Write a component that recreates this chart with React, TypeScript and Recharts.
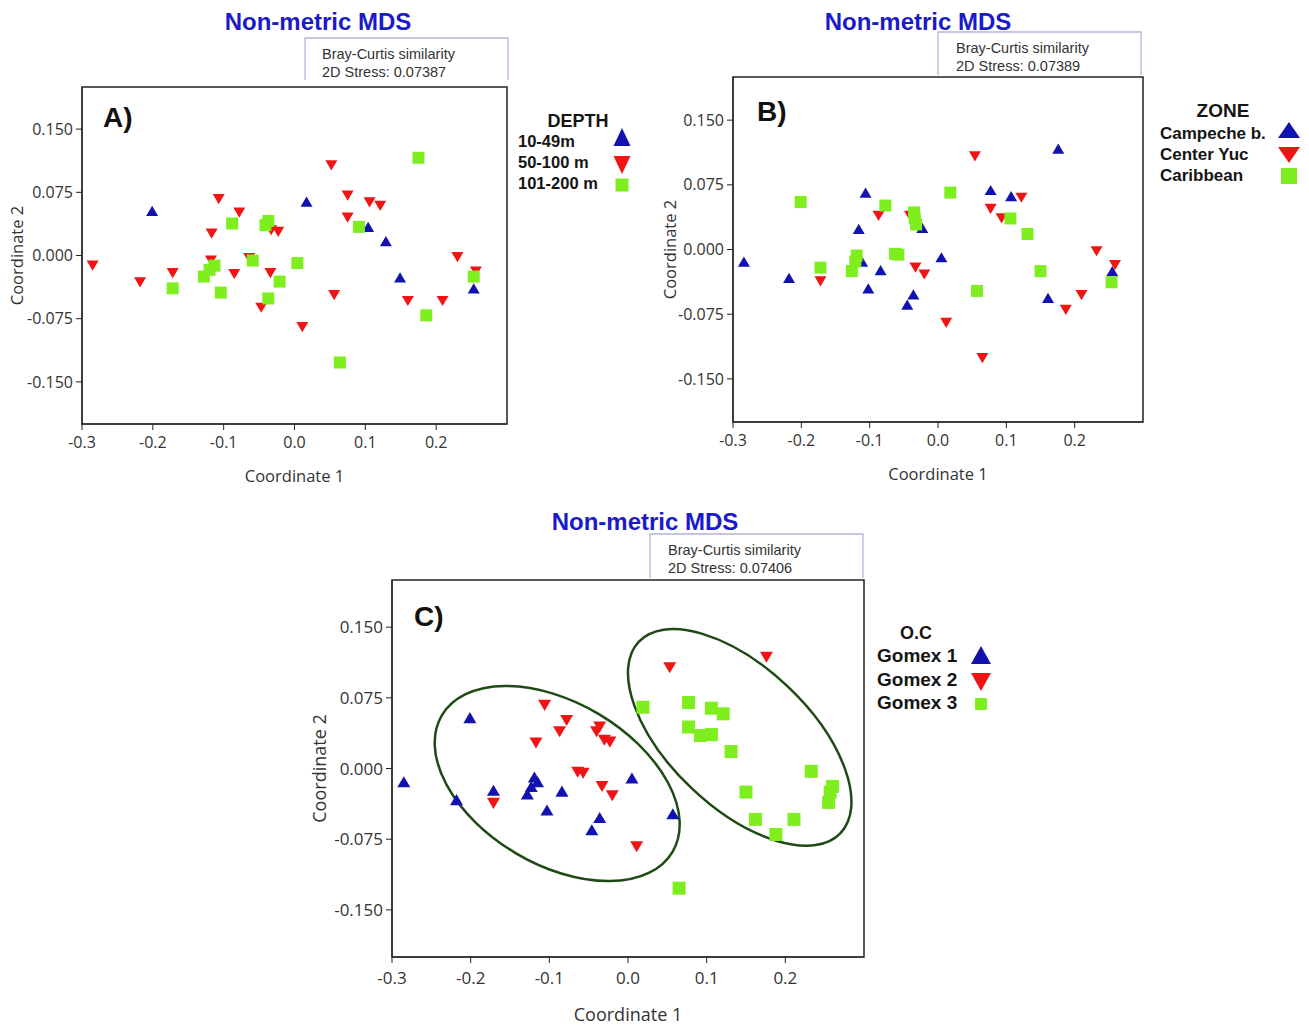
import React from 'react';
import { ScatterChart, Scatter, XAxis, YAxis, ReferenceArea } from 'recharts';

type Pt = [number, number];

// axis ticks shared by the three panels
const X_TICKS = [-0.3, -0.2, -0.1, 0, 0.1, 0.2];
const Y_TICKS = [0.15, 0.075, 0, -0.075, -0.15];

// A) DEPTH
const A_SHALLOW: Pt[] = [[-0.201, 0.053], [0.017, 0.064], [0.104, 0.034], [0.129, 0.017], [0.149, -0.026], [0.253, -0.039]];
const A_MID: Pt[] = [
  [-0.285, -0.012], [-0.218, -0.032], [-0.172, -0.021], [-0.107, 0.067], [-0.117, 0.026], [-0.078, 0.051],
  [-0.118, -0.006], [-0.085, -0.022], [-0.064, -0.003], [-0.033, 0.03], [-0.023, 0.028], [-0.034, -0.021],
  [-0.047, -0.062], [0.011, -0.085], [0.052, 0.107], [0.075, 0.071], [0.075, 0.045], [0.106, 0.063],
  [0.121, 0.059], [0.056, -0.047], [0.16, -0.054], [0.209, -0.054], [0.23, -0.002], [0.256, -0.019],
];
const A_DEEP: Pt[] = [
  [0.175, 0.116], [-0.088, 0.038], [-0.037, 0.041], [-0.041, 0.036], [0.091, 0.034], [-0.059, -0.006],
  [0.004, -0.009], [-0.113, -0.012], [-0.12, -0.017], [-0.128, -0.025], [-0.172, -0.039], [-0.104, -0.044],
  [-0.021, -0.031], [-0.037, -0.051], [0.186, -0.071], [0.064, -0.127], [0.253, -0.025],
];

// B) ZONE
const B_CAMPECHE: Pt[] = [
  [-0.284, -0.014], [-0.218, -0.033], [-0.106, 0.066], [-0.116, 0.024], [-0.111, -0.014], [-0.084, -0.024],
  [-0.102, -0.045], [-0.036, -0.052], [-0.045, -0.064], [-0.023, 0.025], [0.005, -0.009], [0.077, 0.069],
  [0.107, 0.062], [0.176, 0.117], [0.161, -0.056], [0.255, -0.025],
];
const B_CENTER: Pt[] = [
  [0.054, 0.108], [0.122, 0.06], [0.077, 0.047], [0.093, 0.036], [-0.087, 0.039], [-0.041, 0.039],
  [-0.172, -0.037], [-0.033, -0.021], [-0.02, -0.029], [0.012, -0.085], [0.065, -0.126], [0.187, -0.07],
  [0.21, -0.053], [0.232, -0.002], [0.259, -0.018],
];
const B_CARIBBEAN: Pt[] = [
  [-0.201, 0.055], [-0.077, 0.051], [0.018, 0.066], [-0.035, 0.043], [-0.034, 0.036], [-0.032, 0.029],
  [0.106, 0.036], [0.131, 0.018], [-0.063, -0.005], [-0.058, -0.006], [-0.119, -0.007], [-0.121, -0.014],
  [-0.172, -0.021], [-0.126, -0.025], [0.15, -0.025], [0.057, -0.048], [0.254, -0.038],
];

// C) O.C
const C_GOMEX1: Pt[] = [
  [-0.285, -0.014], [-0.201, 0.054], [-0.218, -0.033], [-0.171, -0.023], [-0.128, -0.027], [-0.123, -0.019],
  [-0.119, -0.009], [-0.115, -0.014], [-0.103, -0.044], [-0.084, -0.024], [-0.046, -0.065], [-0.036, -0.052],
  [0.005, -0.01], [0.057, -0.048],
];
const C_GOMEX2: Pt[] = [
  [0.053, 0.107], [0.176, 0.118], [-0.106, 0.067], [-0.078, 0.051], [-0.087, 0.039], [-0.117, 0.027],
  [-0.036, 0.044], [-0.04, 0.039], [-0.03, 0.03], [-0.023, 0.028], [-0.064, -0.004], [-0.057, -0.005],
  [-0.033, -0.019], [-0.02, -0.029], [-0.171, -0.037], [0.011, -0.083],
];
const C_GOMEX3: Pt[] = [
  [0.019, 0.065], [0.077, 0.07], [0.106, 0.064], [0.121, 0.058], [0.077, 0.044], [0.092, 0.035],
  [0.106, 0.036], [0.131, 0.018], [0.233, -0.003], [0.26, -0.019], [0.257, -0.025], [0.255, -0.036],
  [0.15, -0.025], [0.162, -0.054], [0.211, -0.054], [0.188, -0.07], [0.065, -0.127],
];
const C_GROUP_CENTRES: Pt[] = [[-0.09, -0.016], [0.142, 0.033]];

const LEGEND_A = ['10-49m', '50-100 m', '101-200 m'];
const LEGEND_B = ['Campeche b.', 'Center Yuc', 'Caribbean'];
const LEGEND_C = ['Gomex 1', 'Gomex 2', 'Gomex 3'];
const STRESS = ['0.07387', '0.07389', '0.07406'];

const BLUE = '#1212b0';
const RED = '#f01414';
const GREEN = '#7eee1e';
const TITLE_BLUE = '#1a1acb';
const TICK_FONT = '"Open Sans", "DejaVu Sans", sans-serif';
const ARIAL = '"Liberation Sans", Arial, sans-serif';

const ELLIPSE_STYLE = [
  { rx: 134, ry: 81, angle: 30.6 },
  { rx: 139, ry: 70, angle: 43.5 },
];

type Kind = 'up' | 'down' | 'square';

function markerPath(kind: Kind, cx: number, cy: number, w: number, h: number) {
  if (kind === 'up') return `M${cx},${cy - h / 2}L${cx + w / 2},${cy + h / 2}L${cx - w / 2},${cy + h / 2}Z`;
  if (kind === 'down') return `M${cx - w / 2},${cy - h / 2}L${cx + w / 2},${cy - h / 2}L${cx},${cy + h / 2}Z`;
  return `M${cx - w / 2},${cy - w / 2}h${w}v${w}h${-w}Z`;
}

const toObjs = (pts: Pt[]) => pts.map(([x, y], i) => ({ x, y, i }));

type PanelProps = {
  left: number;
  top: number;
  width: number;
  height: number;
  margin: { top: number; right: number; bottom: number; left: number };
  yAxisWidth: number;
  xAxisHeight: number;
  tickFont: number;
  labelFont: number;
  xTickMargin: number;
  xLabelOffset: number;
  yLabelOffset: number;
  marker: number;
  series: { data: Pt[]; color: string; kind: Kind }[];
  groups?: Pt[];
};

function Panel(p: PanelProps) {
  const labelStyle = { fontSize: p.labelFont, fill: '#333', fontFamily: TICK_FONT };
  return (
    <div style={{ position: 'absolute', left: p.left, top: p.top }}>
      <ScatterChart width={p.width} height={p.height} margin={p.margin}>
        <XAxis
          type="number"
          dataKey="x"
          domain={[-0.3, 0.3]}
          ticks={X_TICKS}
          allowDataOverflow
          tickFormatter={(v: number) => v.toFixed(1)}
          height={p.xAxisHeight}
          tickSize={6}
          tickMargin={p.xTickMargin}
          stroke="#222"
          tick={{ fill: '#333', fontSize: p.tickFont, fontFamily: TICK_FONT }}
          label={{ value: 'Coordinate 1', position: 'insideBottom', offset: p.xLabelOffset, style: labelStyle }}
        />
        <YAxis
          type="number"
          dataKey="y"
          domain={[-0.2, 0.2]}
          ticks={Y_TICKS}
          allowDataOverflow
          tickFormatter={(v: number) => v.toFixed(3)}
          width={p.yAxisWidth}
          tickSize={6}
          tickMargin={3}
          stroke="#222"
          tick={{ fill: '#333', fontSize: p.tickFont, fontFamily: TICK_FONT }}
          label={{
            value: 'Coordinate 2',
            angle: -90,
            position: 'insideLeft',
            offset: p.yLabelOffset,
            style: { ...labelStyle, textAnchor: 'middle' },
          }}
        />
        <ReferenceArea x1={-0.3} x2={0.3} y1={-0.2} y2={0.2} fill="none" stroke="#222" strokeWidth={1.5} ifOverflow="visible" />
        {p.groups && (
          <Scatter
            data={toObjs(p.groups)}
            isAnimationActive={false}
            shape={(s: any) => {
              const e = ELLIPSE_STYLE[s.payload.i];
              return (
                <ellipse
                  cx={s.cx}
                  cy={s.cy}
                  rx={e.rx}
                  ry={e.ry}
                  transform={`rotate(${e.angle} ${s.cx} ${s.cy})`}
                  fill="none"
                  stroke="#1f4a14"
                  strokeWidth={2.5}
                />
              );
            }}
          />
        )}
        {p.series.map((s, k) => (
          <Scatter
            key={k}
            data={toObjs(s.data)}
            isAnimationActive={false}
            shape={(q: any) => (
              <path
                d={markerPath(s.kind, q.cx, q.cy, p.marker, s.kind === 'square' ? p.marker : p.marker * 0.85)}
                fill={s.color}
              />
            )}
          />
        ))}
      </ScatterChart>
    </div>
  );
}

function Legend({ x, iconX, headerX, headerY, header, headerSize, labels, baselines, iconYs, fontSize, iconW, iconH, sq }: any) {
  const kinds: Kind[] = ['up', 'down', 'square'];
  const colors = [BLUE, RED, GREEN];
  return (
    <g fontFamily={ARIAL} fontWeight="bold" fill="#151515">
      <text x={headerX} y={headerY} textAnchor="middle" fontSize={headerSize}>{header}</text>
      {labels.map((l: string, i: number) => (
        <g key={l}>
          <text x={x} y={baselines[i]} fontSize={fontSize}>{l}</text>
          <path d={markerPath(kinds[i], iconX, iconYs[i], kinds[i] === 'square' ? sq : iconW, iconH)} fill={colors[i]} />
        </g>
      ))}
    </g>
  );
}

function StressBox({ l, r, t, b, textX, stress }: any) {
  return (
    <g>
      <path d={`M${l},${b}V${t}H${r}V${b}`} fill="none" stroke="#b4b4dc" strokeWidth={1.3} />
      <text x={textX} y={t + 21} fontFamily={ARIAL} fontSize={14.5} fill="#333">Bray-Curtis similarity</text>
      <text x={textX} y={t + 39} fontFamily={ARIAL} fontSize={14.5} fill="#333">2D Stress: {stress}</text>
    </g>
  );
}

function Overlay() {
  const title = (cx: number, y: number) => (
    <text x={cx} y={y} textAnchor="middle" fontFamily={ARIAL} fontWeight="bold" fontSize={24} fill={TITLE_BLUE}>
      Non-metric MDS
    </text>
  );
  const tag = (x: number, y: number, s: string, size: number) => (
    <text x={x} y={y} fontFamily={ARIAL} fontWeight="bold" fontSize={size} fill="#111">{s}</text>
  );
  return (
    <svg width={1309} height={1025} style={{ position: 'absolute', left: 0, top: 0, pointerEvents: 'none' }}>
      {title(318, 30)}
      {title(918, 30)}
      {title(645, 530)}
      <StressBox l={305} r={508} t={38} b={80} textX={322} stress={STRESS[0]} />
      <StressBox l={938} r={1141} t={32} b={75} textX={956} stress={STRESS[1]} />
      <StressBox l={650} r={863} t={534} b={578} textX={668} stress={STRESS[2]} />
      {tag(103, 127, 'A)', 28)}
      {tag(757, 121, 'B)', 28)}
      {tag(414, 626, 'C)', 28)}
      <Legend
        x={518} iconX={622} headerX={578} headerY={127} header="DEPTH" headerSize={18}
        labels={LEGEND_A} baselines={[147, 168, 189]} iconYs={[137, 165, 185]}
        fontSize={16.5} iconW={17} iconH={18} sq={13}
      />
      <Legend
        x={1160} iconX={1289} headerX={1223} headerY={117} header="ZONE" headerSize={19}
        labels={LEGEND_B} baselines={[139, 160, 181]} iconYs={[130, 155, 176]}
        fontSize={17} iconW={22} iconH={16} sq={16}
      />
      <Legend
        x={877} iconX={981} headerX={916} headerY={639} header="O.C" headerSize={18}
        labels={LEGEND_C} baselines={[662, 686, 709]} iconYs={[655, 682, 704]}
        fontSize={19} iconW={20} iconH={18} sq={12}
      />
    </svg>
  );
}

export default function App() {
  return (
    <div style={{ position: 'absolute', left: 0, top: 0, width: 1309, height: 1025, background: '#fff' }}>
      <Panel
        left={0} top={70} width={520} height={420}
        margin={{ top: 17, right: 13, bottom: 4, left: 0 }}
        yAxisWidth={82} xAxisHeight={62} tickFont={16} labelFont={16.5} xTickMargin={7}
        xLabelOffset={4} yLabelOffset={17} marker={12}
        series={[
          { data: A_SHALLOW, color: BLUE, kind: 'up' },
          { data: A_MID, color: RED, kind: 'down' },
          { data: A_DEEP, color: GREEN, kind: 'square' },
        ]}
      />
      <Panel
        left={650} top={60} width={510} height={428}
        margin={{ top: 17, right: 17, bottom: 4, left: 0 }}
        yAxisWidth={83} xAxisHeight={62} tickFont={16} labelFont={16.5} xTickMargin={7}
        xLabelOffset={4} yLabelOffset={20} marker={12}
        series={[
          { data: B_CAMPECHE, color: BLUE, kind: 'up' },
          { data: B_CENTER, color: RED, kind: 'down' },
          { data: B_CARIBBEAN, color: GREEN, kind: 'square' },
        ]}
      />
      <Panel
        left={300} top={560} width={580} height={465}
        margin={{ top: 20, right: 16, bottom: 2, left: 0 }}
        yAxisWidth={92} xAxisHeight={66} tickFont={17} labelFont={18} xTickMargin={9}
        xLabelOffset={2} yLabelOffset={20} marker={13}
        groups={C_GROUP_CENTRES}
        series={[
          { data: C_GOMEX1, color: BLUE, kind: 'up' },
          { data: C_GOMEX2, color: RED, kind: 'down' },
          { data: C_GOMEX3, color: GREEN, kind: 'square' },
        ]}
      />
      <Overlay />
    </div>
  );
}
